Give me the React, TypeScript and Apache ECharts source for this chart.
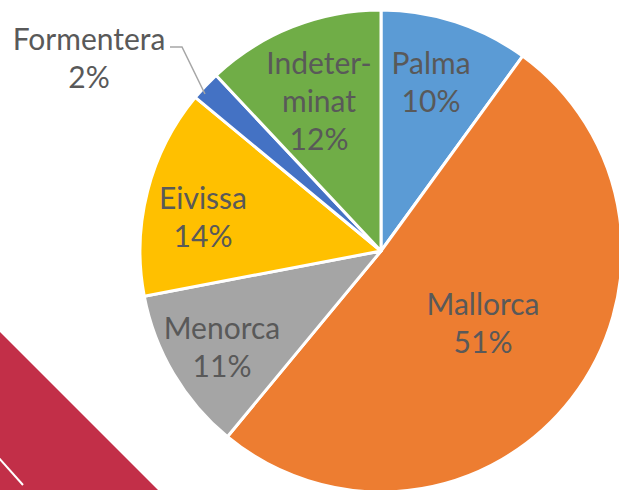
import React, { useEffect, useRef } from 'react';
import * as echarts from 'echarts';

const categories = ['Palma', 'Mallorca', 'Menorca', 'Eivissa', 'Formentera', 'Indeterminat'];
const labelTexts = ['Palma', 'Mallorca', 'Menorca', 'Eivissa', 'Formentera', 'Indeter-\nminat'];
const shares = [10, 51, 11, 14, 2, 12];
const colors = ['#5B9BD5', '#ED7D31', '#A5A5A5', '#FFC000', '#4472C4', '#70AD47'];

// layout: label block centres (px)
const labelCenters: number[][] = [
  [431, 81],
  [483, 322],
  [222, 346],
  [203, 216],
  [89, 57],
  [319, 100],
];

export default function App() {
  const ref = useRef<HTMLDivElement>(null);
  useEffect(() => {
    if (!ref.current) return;
    const chart = echarts.init(ref.current, undefined, { renderer: 'svg' });
    chart.setOption({
      animation: false,
      backgroundColor: '#ffffff',
      graphic: [
        {
          type: 'polygon',
          z: 0,
          shape: { points: [[0, 332], [160, 492], [0, 492]] },
          style: { fill: '#C22F48' },
          silent: true,
        },
        {
          type: 'line',
          z: 1,
          shape: { x1: -2, y1: 457, x2: 23, y2: 485 },
          style: { stroke: '#ffffff', lineWidth: 2 },
          silent: true,
        },
        {
          type: 'polyline',
          z: 10,
          shape: { points: [[205, 94], [182, 47], [170, 47]] },
          style: { stroke: '#A6A6A6', lineWidth: 1.5, fill: 'none' },
          silent: true,
        },
      ],
      series: [
        {
          type: 'pie',
          center: [381, 251],
          radius: 241,
          startAngle: 90,
          clockwise: true,
          silent: true,
          avoidLabelOverlap: false,
          itemStyle: { borderColor: '#ffffff', borderWidth: 3 },
          emphasis: { disabled: true },
          label: {
            show: true,
            position: 'inside',
            color: '#595959',
            fontFamily: 'Lato',
            fontSize: 30,
            lineHeight: 38,
            align: 'center',
            verticalAlign: 'middle',
            formatter: (p: any) => labelTexts[p.dataIndex] + '\n' + p.value + '%',
          },
          labelLine: { show: false },
          labelLayout: (p: any) => ({
            x: labelCenters[p.dataIndex][0],
            y: labelCenters[p.dataIndex][1],
            align: 'center',
            verticalAlign: 'middle',
          }),
          data: categories.map((name, i) => ({
            name,
            value: shares[i],
            itemStyle: { color: colors[i] },
          })),
        },
      ],
    });
    return () => chart.dispose();
  }, []);
  return (
    <div
      ref={ref}
      style={{ position: 'fixed', left: 0, top: 0, width: 619, height: 490 }}
    />
  );
}
